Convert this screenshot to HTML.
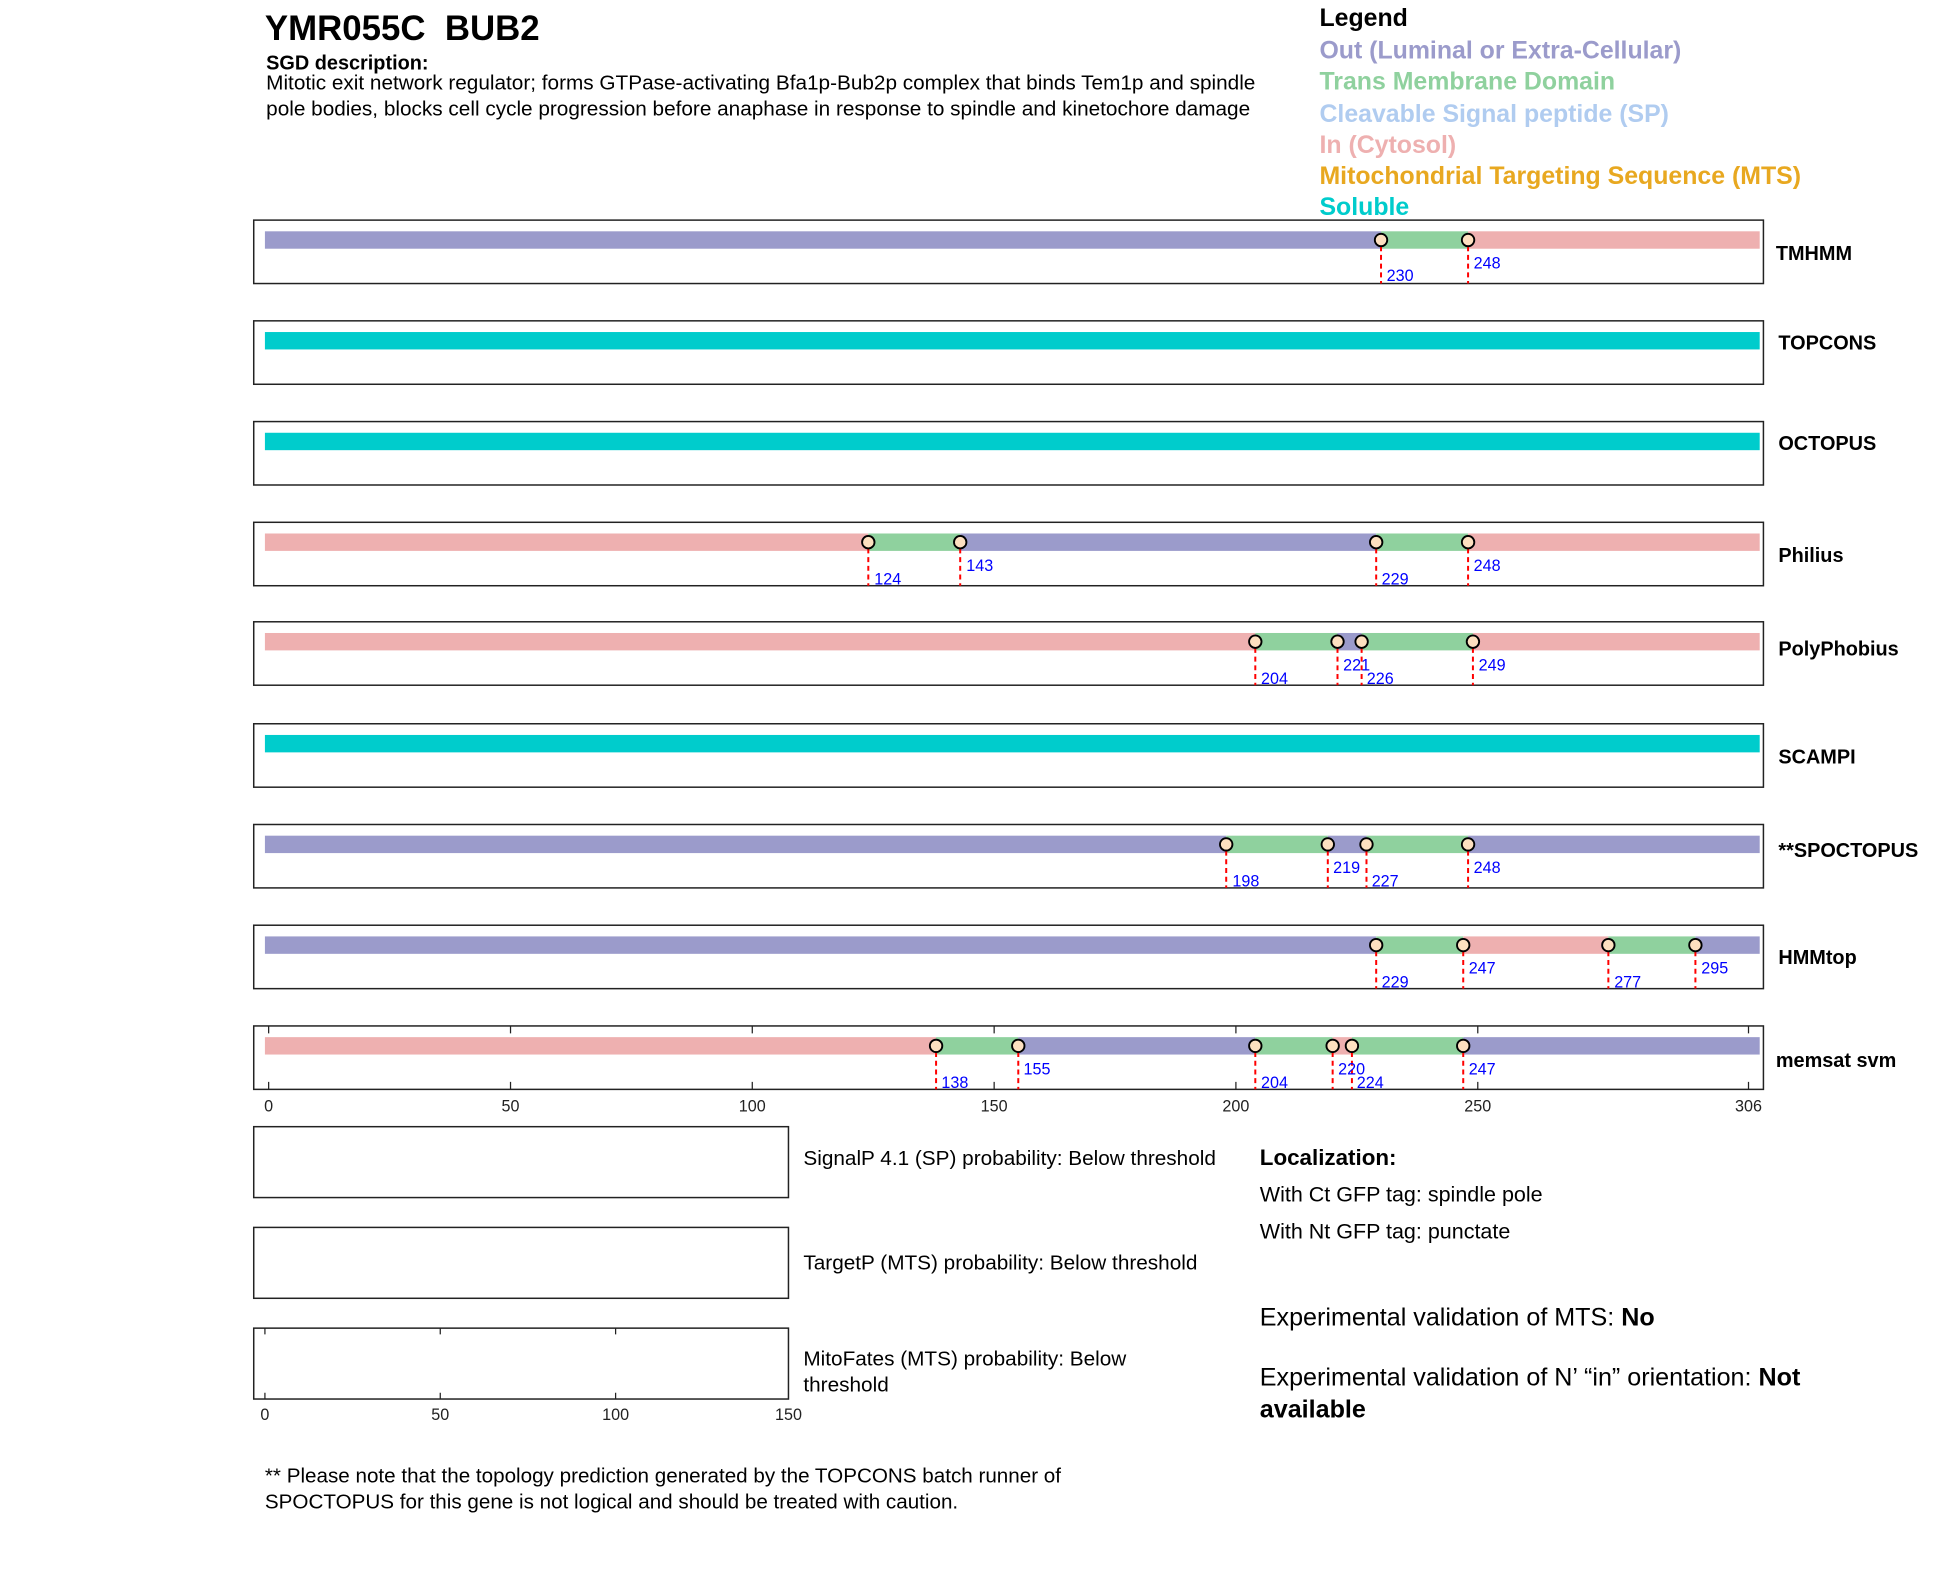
<!DOCTYPE html>
<html><head><meta charset="utf-8"><style>
html,body{margin:0;padding:0;background:#fff}
svg{display:block}
text{font-family:"Liberation Sans",Arial,sans-serif}
</style></head><body>
<svg width="1950" height="1573" viewBox="0 0 1568 1264.9" xmlns="http://www.w3.org/2000/svg">
<rect width="1568" height="1264.9" fill="#fff"/>
<text x="213" y="32" font-size="28" font-weight="bold" xml:space="preserve">YMR055C  BUB2</text>
<text x="214" y="56" font-size="16" font-weight="bold">SGD description:</text>
<text x="214" y="72" font-size="16.7">Mitotic exit network regulator; forms GTPase-activating Bfa1p-Bub2p complex that binds Tem1p and spindle</text>
<text x="214" y="93" font-size="16.7">pole bodies, blocks cell cycle progression before anaphase in response to spindle and kinetochore damage</text>
<g font-size="20" font-weight="bold">
<text x="1061" y="21">Legend</text>
<text x="1061" y="47" fill="#9b9bcb">Out (Luminal or Extra-Cellular)</text>
<text x="1061" y="72" fill="#8fd19e">Trans Membrane Domain</text>
<text x="1061" y="98" fill="#b0ccf0">Cleavable Signal peptide (SP)</text>
<text x="1061" y="123" fill="#eeb0b0">In (Cytosol)</text>
<text x="1061" y="148" fill="#e8a820">Mitochondrial Targeting Sequence (MTS)</text>
<text x="1061" y="173" fill="#00cccc">Soluble</text>
</g>
<defs>
<g id="c"><circle r="5" fill="#fde0c0" stroke="#000" stroke-width="1.5"/></g>
</defs>
<g stroke="#222" stroke-width="1.2" fill="none">
<rect x="204" y="177" width="1214" height="51"/>
<rect x="204" y="258" width="1214" height="51"/>
<rect x="204" y="339" width="1214" height="51"/>
<rect x="204" y="420" width="1214" height="51"/>
<rect x="204" y="500" width="1214" height="51"/>
<rect x="204" y="582" width="1214" height="51"/>
<rect x="204" y="663" width="1214" height="51"/>
<rect x="204" y="744" width="1214" height="51"/>
<rect x="204" y="825" width="1214" height="51"/>
</g>
<g font-size="16" font-weight="bold">
<text x="1428" y="209">TMHMM</text>
<text x="1430" y="281">TOPCONS</text>
<text x="1430" y="362">OCTOPUS</text>
<text x="1430" y="452">Philius</text>
<text x="1430" y="527">PolyPhobius</text>
<text x="1430" y="614">SCAMPI</text>
<text x="1430" y="689">**SPOCTOPUS</text>
<text x="1430" y="775">HMMtop</text>
<text x="1428" y="858">memsat svm</text>
</g>
<g transform="translate(0,177)">
<rect x="213" y="9" width="897.5" height="14" fill="#9b9bcb"/>
<rect x="1110.5" y="9" width="70" height="14" fill="#8fd19e"/>
<rect x="1180.5" y="9" width="234.5" height="14" fill="#eeb0b0"/>
</g>
<rect x="213" y="267" width="1202" height="14" fill="#00cccc"/>
<rect x="213" y="348" width="1202" height="14" fill="#00cccc"/>
<rect x="213" y="591" width="1202" height="14" fill="#00cccc"/>
<g transform="translate(0,420)">
<rect x="213" y="9" width="485.2" height="14" fill="#eeb0b0"/>
<rect x="698.2" y="9" width="73.9" height="14" fill="#8fd19e"/>
<rect x="772.1" y="9" width="334.5" height="14" fill="#9b9bcb"/>
<rect x="1106.6" y="9" width="73.9" height="14" fill="#8fd19e"/>
<rect x="1180.5" y="9" width="234.5" height="14" fill="#eeb0b0"/>
</g>
<g transform="translate(0,500)">
<rect x="213" y="9" width="796.4" height="14" fill="#eeb0b0"/>
<rect x="1009.4" y="9" width="66.1" height="14" fill="#8fd19e"/>
<rect x="1075.5" y="9" width="19.4" height="14" fill="#9b9bcb"/>
<rect x="1094.9" y="9" width="89.5" height="14" fill="#8fd19e"/>
<rect x="1184.4" y="9" width="230.6" height="14" fill="#eeb0b0"/>
</g>
<g transform="translate(0,663)">
<rect x="213" y="9" width="773" height="14" fill="#9b9bcb"/>
<rect x="986" y="9" width="81.7" height="14" fill="#8fd19e"/>
<rect x="1067.7" y="9" width="31.1" height="14" fill="#9b9bcb"/>
<rect x="1098.8" y="9" width="81.7" height="14" fill="#8fd19e"/>
<rect x="1180.5" y="9" width="234.5" height="14" fill="#9b9bcb"/>
</g>
<g transform="translate(0,744)">
<rect x="213" y="9" width="893.6" height="14" fill="#9b9bcb"/>
<rect x="1106.6" y="9" width="70" height="14" fill="#8fd19e"/>
<rect x="1176.6" y="9" width="116.7" height="14" fill="#eeb0b0"/>
<rect x="1293.3" y="9" width="70" height="14" fill="#8fd19e"/>
<rect x="1363.3" y="9" width="51.7" height="14" fill="#9b9bcb"/>
</g>
<g transform="translate(0,825)">
<g stroke="#222" stroke-width="1">
<path d="M216 0v6M410.5 0v6M604.9 0v6M799.4 0v6M993.8 0v6M1188.3 0v6M1406 0v6"/>
<path d="M216 51v-6M410.5 51v-6M604.9 51v-6M799.4 51v-6M993.8 51v-6M1188.3 51v-6M1406 51v-6"/>
</g>
<rect x="213" y="9" width="539.7" height="14" fill="#eeb0b0"/>
<rect x="752.7" y="9" width="66.1" height="14" fill="#8fd19e"/>
<rect x="818.8" y="9" width="190.6" height="14" fill="#9b9bcb"/>
<rect x="1009.4" y="9" width="62.2" height="14" fill="#8fd19e"/>
<rect x="1071.6" y="9" width="15.5" height="14" fill="#eeb0b0"/>
<rect x="1087.1" y="9" width="89.5" height="14" fill="#8fd19e"/>
<rect x="1176.6" y="9" width="238.4" height="14" fill="#9b9bcb"/>
<g font-size="13" fill="#222" text-anchor="middle">
<text x="216" y="69">0</text><text x="410.5" y="69">50</text><text x="604.9" y="69">100</text>
<text x="799.4" y="69">150</text><text x="993.8" y="69">200</text><text x="1188.3" y="69">250</text><text x="1406" y="69">306</text>
</g>
</g>
<g stroke="#f00" stroke-width="1.6" stroke-dasharray="4,3">
<path d="M1110.5 198v30M1180.5 198v30"/>
<path d="M698.2 441v30M772.1 441v30M1106.6 441v30M1180.5 441v30"/>
<path d="M1009.4 521v30M1075.5 521v30M1094.9 521v30M1184.4 521v30"/>
<path d="M986 684v30M1067.7 684v30M1098.8 684v30M1180.5 684v30"/>
<path d="M1106.6 765v30M1176.6 765v30M1293.3 765v30M1363.3 765v30"/>
<path d="M752.7 846v30M818.8 846v30M1009.4 846v30M1071.6 846v30M1087.1 846v30M1176.6 846v30"/>
</g>
<g>
<use href="#c" x="1110.5" y="193"/><use href="#c" x="1180.5" y="193"/>
<use href="#c" x="698.2" y="436"/><use href="#c" x="772.1" y="436"/><use href="#c" x="1106.6" y="436"/><use href="#c" x="1180.5" y="436"/>
<use href="#c" x="1009.4" y="516"/><use href="#c" x="1075.5" y="516"/><use href="#c" x="1094.9" y="516"/><use href="#c" x="1184.4" y="516"/>
<use href="#c" x="986" y="679"/><use href="#c" x="1067.7" y="679"/><use href="#c" x="1098.8" y="679"/><use href="#c" x="1180.5" y="679"/>
<use href="#c" x="1106.6" y="760"/><use href="#c" x="1176.6" y="760"/><use href="#c" x="1293.3" y="760"/><use href="#c" x="1363.3" y="760"/>
<use href="#c" x="752.7" y="841"/><use href="#c" x="818.8" y="841"/><use href="#c" x="1009.4" y="841"/><use href="#c" x="1071.6" y="841"/><use href="#c" x="1087.1" y="841"/><use href="#c" x="1176.6" y="841"/>
</g>
<g font-size="13" fill="#00f">
<text x="1115" y="226">230</text><text x="1185" y="216">248</text>
<text x="703" y="470">124</text><text x="777" y="459">143</text><text x="1111" y="470">229</text><text x="1185" y="459">248</text>
<text x="1014" y="550">204</text><text x="1080" y="539">221</text><text x="1099" y="550">226</text><text x="1189" y="539">249</text>
<text x="991" y="713">198</text><text x="1072" y="702">219</text><text x="1103" y="713">227</text><text x="1185" y="702">248</text>
<text x="1111" y="794">229</text><text x="1181" y="783">247</text><text x="1298" y="794">277</text><text x="1368" y="783">295</text>
<text x="757" y="875">138</text><text x="823" y="864">155</text><text x="1014" y="875">204</text><text x="1076" y="864">220</text><text x="1091" y="875">224</text><text x="1181" y="864">247</text>
</g>
<g stroke="#222" stroke-width="1.2" fill="none">
<rect x="204" y="906" width="430" height="57"/>
<rect x="204" y="987" width="430" height="57"/>
<rect x="204" y="1068" width="430" height="57"/>
<path d="M213 1068v5M354 1068v5M495 1068v5M213 1125v-5M354 1125v-5M495 1125v-5" stroke-width="1"/>
</g>
<g font-size="13" fill="#222" text-anchor="middle">
<text x="213" y="1142">0</text><text x="354" y="1142">50</text><text x="495" y="1142">100</text><text x="634" y="1142">150</text>
</g>
<g font-size="16.7">
<text x="646" y="937">SignalP 4.1 (SP) probability: Below threshold</text>
<text x="646" y="1021">TargetP (MTS) probability: Below threshold</text>
<text x="646" y="1098">MitoFates (MTS) probability: Below</text>
<text x="646" y="1119">threshold</text>
</g>
<text x="1013" y="937" font-size="18" font-weight="bold">Localization:</text>
<text x="1013" y="966" font-size="17.3">With Ct GFP tag: spindle pole</text>
<text x="1013" y="996" font-size="17.3">With Nt GFP tag: punctate</text>
<text x="1013" y="1066" font-size="20.2">Experimental validation of MTS: <tspan font-weight="bold">No</tspan></text>
<text x="1013" y="1114" font-size="20.2">Experimental validation of N’ “in” orientation: <tspan font-weight="bold">Not</tspan></text>
<text x="1013" y="1140" font-size="20.2" font-weight="bold">available</text>
<text x="213" y="1192" font-size="16.6">** Please note that the topology prediction generated by the TOPCONS batch runner of</text>
<text x="213" y="1213" font-size="16.6">SPOCTOPUS for this gene is not logical and should be treated with caution.</text>
</svg>
</body></html>
